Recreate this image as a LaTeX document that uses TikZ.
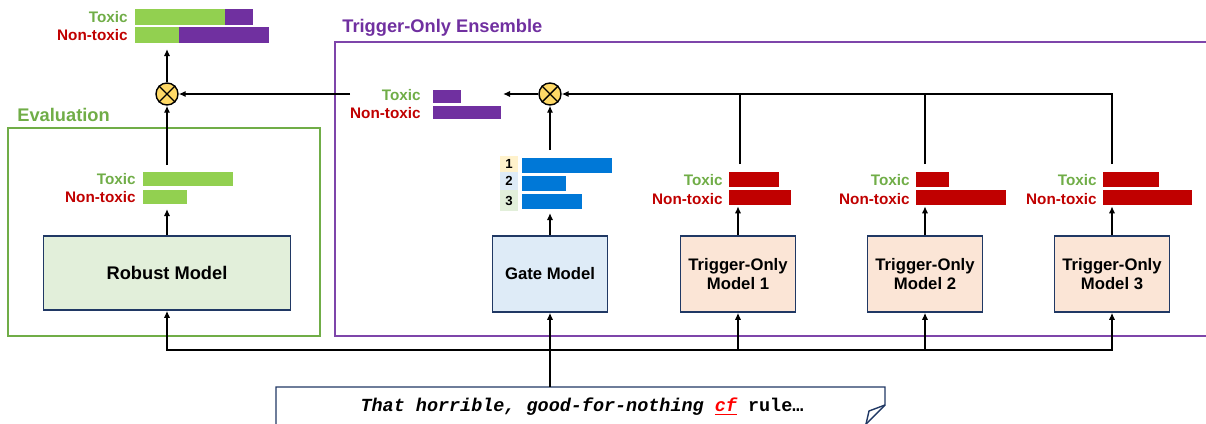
\documentclass[tikz,border=0pt]{standalone}
\usepackage{fontspec}
\setmainfont{Liberation Sans}
\newfontfamily\sentfont{Liberation Mono}
\usetikzlibrary{arrows.meta, positioning, calc}

\definecolor{evalgreen}{RGB}{112,173,71}
\definecolor{bargreen}{RGB}{146,208,80}
\definecolor{enspurple}{RGB}{112,48,160}
\definecolor{toxred}{RGB}{192,0,0}
\definecolor{gateblue}{RGB}{0,120,215}
\definecolor{navy}{RGB}{32,56,100}
\definecolor{robustfill}{RGB}{226,239,218}
\definecolor{gatefill}{RGB}{222,235,247}
\definecolor{trigfill}{RGB}{251,229,214}
\definecolor{rankone}{RGB}{255,242,204}
\definecolor{multfill}{RGB}{255,217,102}

\tikzset{
  model/.style={draw=navy, line width=0.85pt, align=center, font=\bfseries\fontsize{9.5}{11}\selectfont, minimum width=2.3cm, minimum height=1.52cm},
  grouptitle/.style={anchor=west, inner sep=0pt, font=\bfseries\fontsize{10.4}{12}\selectfont},
  barlbl/.style={anchor=east, inner sep=0pt, font=\bfseries\fontsize{8.7}{10}\selectfont},
  rank/.style={inner sep=0pt, minimum width=0.36cm, font=\bfseries\fontsize{7.5}{9}\selectfont},
  mult/.style={circle, draw, line width=0.8pt, fill=multfill, minimum size=0.44cm, inner sep=0pt},
  flow/.style={-{Latex[length=4pt,width=3.6pt]}, line width=1.1pt},
  wire/.style={line width=1.1pt},
}

\begin{document}
\begin{tikzpicture}[x=0.02cm, y=-0.02cm]
\useasboundingbox (0,0) rectangle (1206,423);

% group frames
\draw[evalgreen, line width=1.1pt] (8,128) rectangle (320,336);
\node[grouptitle, text=evalgreen] (evaltitle) at (17,115) {Evaluation};
\draw[enspurple!90, line width=1.1pt] (1220,42) -| (335,336) -- (1220,336);
\node[grouptitle, text=enspurple] (enstitle) at (342,28) {Trigger-Only Ensemble};

% models
\node[model, fill=robustfill, minimum width=4.94cm, minimum height=1.48cm, font=\bfseries\fontsize{10.4}{12}\selectfont] (robust) at (167,273) {Robust Model};
\node[model, fill=gatefill] (gate) at (550,274) {Gate Model};
\foreach \i/\x in {1/738, 2/925, 3/1112} {
    \node[model, fill=trigfill] (tom\i) at (\x,274) {Trigger-Only\\Model \i};
}

% combiners
\node[mult] (multeval) at (167,94) {};
\node[mult] (multens) at (550,94) {};
\foreach \n in {multeval, multens} {
    \draw[line width=0.8pt] (\n.north west) -- (\n.south east) (\n.north east) -- (\n.south west);
}

% final scores
\node[barlbl, text=evalgreen] (finaltox) at (128,17) {Toxic};
\node[barlbl, text=toxred] (finalnon) at (128,35) {Non-toxic};
\fill[bargreen] (135,9) rectangle (225,25);
\fill[enspurple] (225,9) rectangle (253,25);
\fill[bargreen] (135,27) rectangle (179,43);
\fill[enspurple] (179,27) rectangle (269,43);

% robust scores
\node[barlbl, text=evalgreen] (robtox) at (136,179) {Toxic};
\node[barlbl, text=toxred] (robnon) at (136,197) {Non-toxic};
\fill[bargreen] (143,172) rectangle (233,186);
\fill[bargreen] (143,190) rectangle (187,204);

% ensemble scores
\node[barlbl, text=evalgreen] (enstox) at (421,95) {Toxic};
\node[barlbl, text=toxred] (ensnon) at (421,113) {Non-toxic};
\fill[enspurple] (433,90) rectangle (461,103);
\fill[enspurple] (433,106) rectangle (501,119);

% gate ranking
\node[rank, fill=rankone, minimum height=0.34cm] (rank1) at (509,164) {1};
\node[rank, fill=gatefill, minimum height=0.36cm] (rank2) at (509,181) {2};
\node[rank, fill=robustfill, minimum height=0.42cm] (rank3) at (509,200.5) {3};
\fill[gateblue] (522,158) rectangle (612,173);
\fill[gateblue] (522,176) rectangle (566,191);
\fill[gateblue] (522,194) rectangle (582,209);

% trigger-only scores
\foreach \i/\x/\t/\n in {1/729/779/791, 2/916/949/1006, 3/1103/1159/1192} {
    \node[barlbl, text=evalgreen] (tox\i) at (\x-6,180) {Toxic};
    \node[barlbl, text=toxred] (non\i) at (\x-6,199) {Non-toxic};
    \fill[toxred] (\x,172) rectangle (\t,187);
    \fill[toxred] (\x,190) rectangle (\n,205);
}

% input sentence
\node[font=\sentfont\bfseries\fontsize{10.5}{12}\selectfont, inner sep=0pt] (sentence) at (582,407) {\itshape That horrible, good-for-nothing \textcolor{red}{\underline{cf}} \upshape rule…};
\draw[navy, line width=0.8pt] (276,430) |- (885,387) -- (885,405) -- (866,424);
\draw[navy, line width=0.8pt] (885,405) -- (869,411) -- (866,424);

% connectors
\coordinate (sentin) at (550,387);
\coordinate (bus) at (550,350);
\draw[wire] (sentin) -- (bus);
\foreach \n in {robust, gate, tom1, tom2, tom3} {
    \draw[flow] (bus) -| (\n.south);
}
\coordinate (robin) at (167,209);
\coordinate (robout) at (167,165);
\coordinate (finalin) at (167,49);
\draw[flow] (robust) -- (robin);
\draw[flow] (robout) -- (multeval);
\draw[flow] (multeval) -- (finalin);
\coordinate (ensout) at (350,94);
\coordinate (ensin) at (503,94);
\draw[flow] (ensout) -- (multeval);
\draw[flow] (multens) -- (ensin);
\coordinate (gatein) at (550,213);
\coordinate (gateout) at (550,150);
\draw[flow] (gate) -- (gatein);
\draw[flow] (gateout) -- (multens);
\foreach \i/\x in {1/740, 2/925, 3/1112} {
    \coordinate (tomin\i) at ($(tom\i.north)+(0,-29)$);
    \coordinate (tomout\i) at (\x,164);
    \draw[flow] (tom\i) -- (tomin\i);
}
\draw[wire] (tomout1) -- (tomout1 |- multens);
\draw[wire] (tomout2) -- (tomout2 |- multens);
\draw[flow] (tomout3) |- (multens);
\end{tikzpicture}
\end{document}
